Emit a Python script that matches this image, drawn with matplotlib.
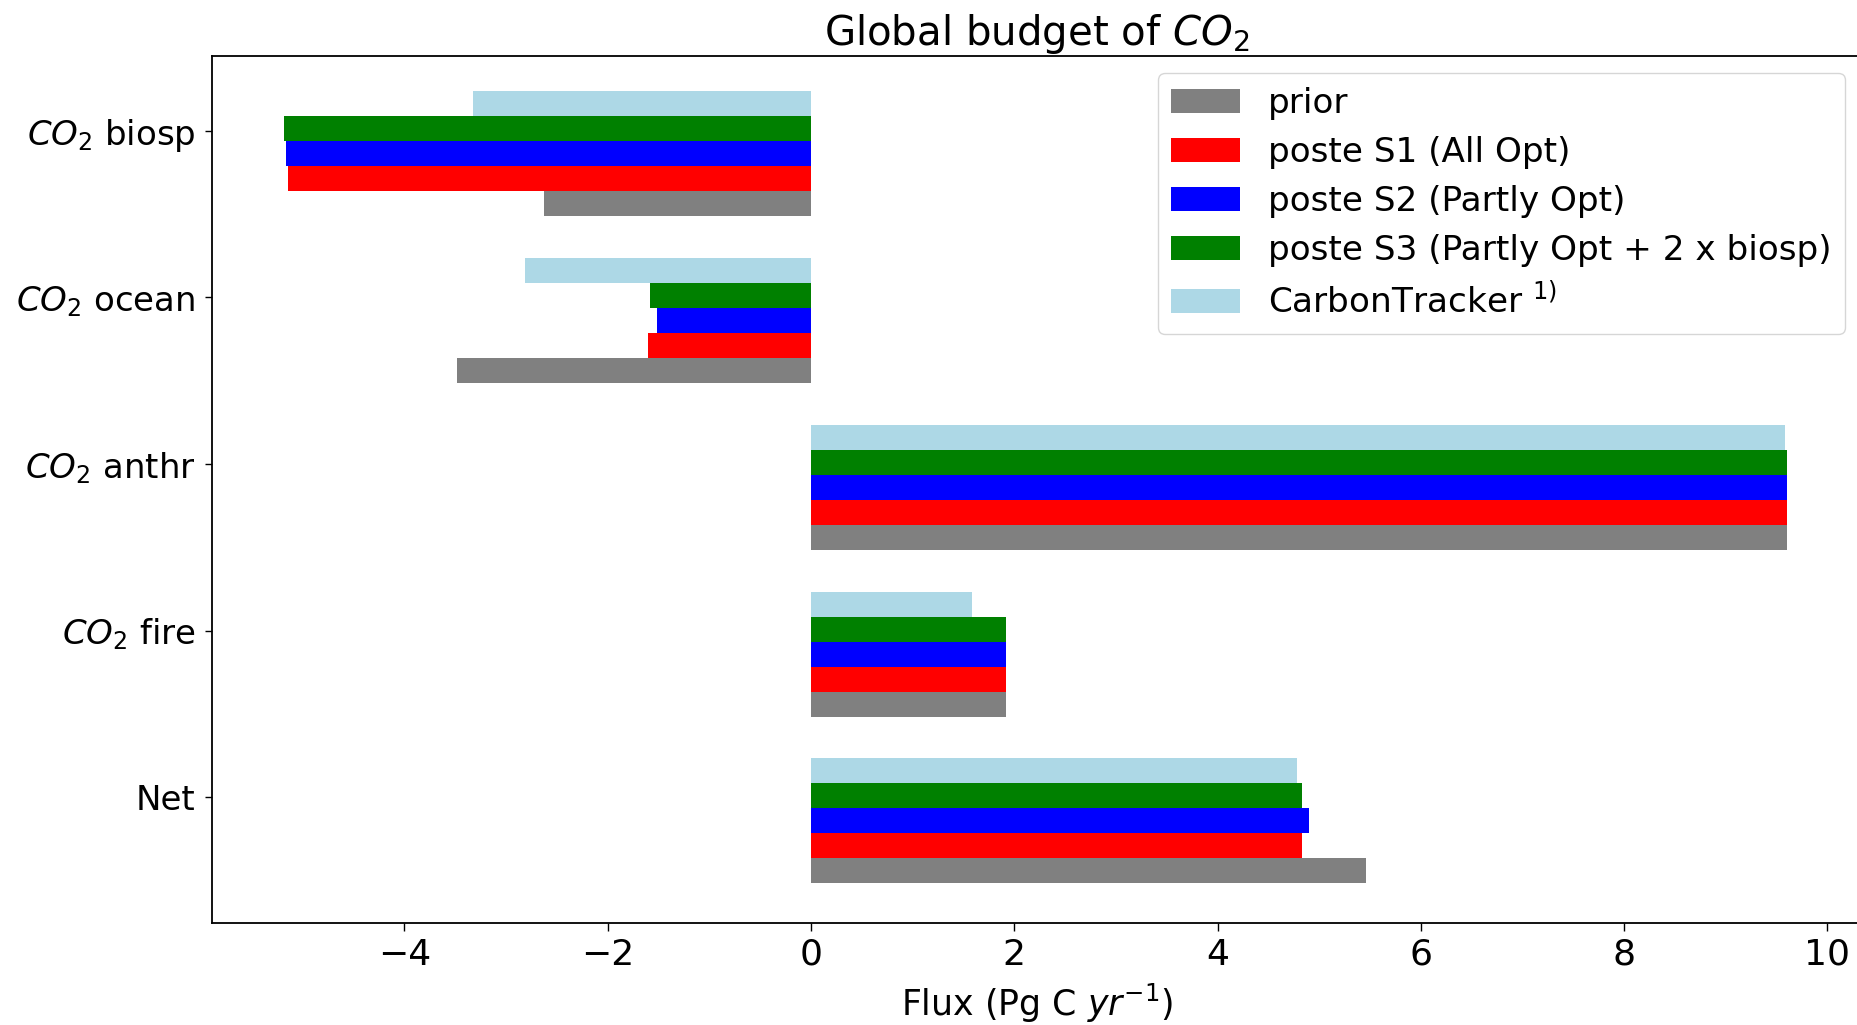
import numpy as np
import matplotlib
matplotlib.use("Agg")
import matplotlib.pyplot as plt

# categories, listed from bottom (y=0) to top
categories = ["Net", "$CO_2$ fire", "$CO_2$ anthr", "$CO_2$ ocean", "$CO_2$ biosp"]

# fluxes in Pg C / yr, same order as categories
prior = [5.46, 1.92, 9.60, -3.48, -2.63]
poste_s1 = [4.83, 1.92, 9.60, -1.60, -5.14]
poste_s2 = [4.90, 1.92, 9.60, -1.51, -5.16]
poste_s3 = [4.83, 1.92, 9.60, -1.58, -5.18]
carbontracker = [4.78, 1.58, 9.58, -2.81, -3.32]

series = [
    (prior, "grey", "prior"),
    (poste_s1, "red", "poste S1 (All Opt)"),
    (poste_s2, "blue", "poste S2 (Partly Opt)"),
    (poste_s3, "green", "poste S3 (Partly Opt + 2 x biosp)"),
    (carbontracker, "lightblue", "CarbonTracker $^{1)}$"),
]

y = np.arange(len(categories))
h = 0.15
offsets = [-0.44, -0.29, -0.14, 0.01, 0.16]

fig = plt.figure(figsize=(18.57, 10.25), dpi=100)
ax = fig.add_axes([0.1143, 0.0998, 0.8884, 0.8456])

for (vals, col, lab), off in zip(series, offsets):
    ax.barh(y + off, vals, height=h, color=col, label=lab)

ax.set_yticks(y)
ax.set_yticklabels(categories)
ax.set_xlim(-5.89, 10.34)
ax.set_ylim(-0.752, 4.448)
ax.set_xticks([-4, -2, 0, 2, 4, 6, 8, 10])

ax.tick_params(axis="y", labelsize=24.5, length=5, width=1.0, pad=7)
ax.tick_params(axis="x", labelsize=26, length=6, width=1.0, pad=5)
for s in ax.spines.values():
    s.set_linewidth(1.3)

ax.set_title("Global budget of $CO_2$", fontsize=29, pad=7)
ax.set_xlabel("Flux (Pg C $yr^{-1}$)", fontsize=25, labelpad=7)

ax.legend(loc="upper right", fontsize=24.7, handlelength=2.0, labelspacing=0.47)

fig.savefig("out.png", dpi=100)
